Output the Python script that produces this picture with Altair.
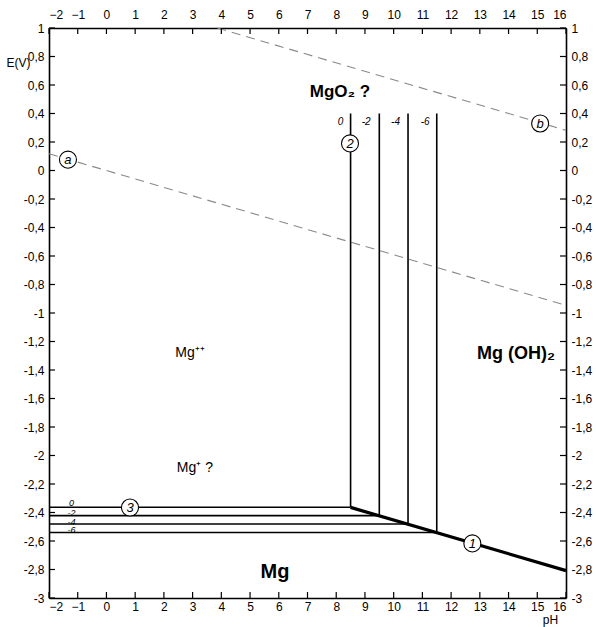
import altair as alt
import pandas as pd

# ---------------- data ----------------
x_ticks = [-2, -1, 0, 1, 2, 3, 4, 5, 6, 7, 8, 9, 10, 11, 12, 13, 14, 15, 16]
y_ticks = [1, 0.8, 0.6, 0.4, 0.2, 0, -0.2, -0.4, -0.6, -0.8, -1, -1.2, -1.4,
           -1.6, -1.8, -2, -2.2, -2.4, -2.6, -2.8, -3]

# line 2 (vertical Mg++ / Mg(OH)2) for log[Mg++] = 0, -2, -4, -6
log_conc_labels = ["0", "-2", "-4", "-6"]
ph_vertical = [8.5, 9.5, 10.5, 11.5]
e_vertical_top = [0.40, 0.40, 0.40, 0.40]
# line 3 (horizontal Mg++ / Mg)
e_horizontal = [-2.363, -2.422, -2.481, -2.540]
ph_horizontal_start = [-2, -2, -2, -2]

# line 1 (Mg(OH)2 / Mg)
line1_ph = [8.5, 16]
line1_e = [-2.364, -2.808]

# water lines a and b (dashed)
line_a_ph = [-2, 16]
line_a_e = [0.118, -0.946]
line_b_ph = [3.86, 16]
line_b_e = [1.0, 0.282]

# region labels
region_text = ["MgO\u2082 ?", "Mg\u207a\u207a", "Mg (OH)\u2082", "Mg\u207a ?", "Mg"]
region_ph = [8.13, 2.91, 14.26, 3.08, 5.87]
region_e = [0.55, -1.28, -1.29, -2.09, -2.82]
region_bold = ["bold", "normal", "bold", "normal", "bold"]
region_size = [17, 14, 18, 14, 20]

# circled line identifiers
circle_text = ["a", "b", "2", "3", "1"]
circle_ph = [-1.34, 15.1, 8.48, 0.82, 12.74]
circle_e = [0.076, 0.33, 0.19, -2.365, -2.617]

# small concentration labels
top_lab_ph = [8.25, 9.2, 10.22, 11.25]
top_lab_e = [0.34, 0.34, 0.34, 0.34]
left_lab_ph = [-1.22, -1.22, -1.22, -1.22]
left_lab_e = [-2.33, -2.40, -2.465, -2.525]

# ---------------- chart ----------------
W, H = 517, 570
FONT = "Liberation Sans"
xs = alt.Scale(domain=[-2, 16], nice=False, zero=False)
ys = alt.Scale(domain=[-3, 1], nice=False, zero=False)

label_expr = "replace(replace(format(datum.value, '.1~f'), '.', ','), '\u2212', '-')"

thin_df = pd.DataFrame({
    "x": ph_horizontal_start + ph_vertical,
    "y": e_horizontal + e_horizontal,
    "x2": ph_vertical + ph_vertical,
    "y2": e_horizontal + e_vertical_top,
})
thin = alt.Chart(thin_df).mark_rule(color="black", strokeWidth=1.6).encode(
    x=alt.X("x:Q", scale=xs, axis=alt.Axis(
        orient="bottom", values=x_ticks, ticks=False, grid=False,
        labelPadding=3, labelFontSize=12, labelFont=FONT, labelColor="black",
        domainColor="black", domainWidth=1.6,
        title="pH", titleFont=FONT, titleFontSize=12, titleFontWeight="normal",
        titleAngle=0, titleX=501, titleY=16, titleAlign="center",
        titleBaseline="top")),
    y=alt.Y("y:Q", scale=ys, axis=alt.Axis(
        orient="left", values=y_ticks, ticks=False, grid=False,
        labelExpr=label_expr, labelPadding=5, labelFontSize=12, labelFont=FONT,
        labelColor="black", domainColor="black", domainWidth=1.6,
        title="E(V)", titleFont=FONT, titleFontSize=12, titleFontWeight="normal",
        titleAngle=0, titleX=-31, titleY=34, titleAlign="center",
        titleBaseline="middle")),
    x2="x2:Q", y2="y2:Q",
)

thick_df = pd.DataFrame({"x": [line1_ph[0]], "y": [line1_e[0]],
                         "x2": [line1_ph[1]], "y2": [line1_e[1]]})
thick = alt.Chart(thick_df).mark_rule(color="black", strokeWidth=3.2).encode(
    x=alt.X("x:Q", scale=xs, axis=None), y=alt.Y("y:Q", scale=ys, axis=None),
    x2="x2:Q", y2="y2:Q")

dash_df = pd.DataFrame({"x": [line_a_ph[0], line_b_ph[0]],
                        "y": [line_a_e[0], line_b_e[0]],
                        "x2": [line_a_ph[1], line_b_ph[1]],
                        "y2": [line_a_e[1], line_b_e[1]]})
dashed = alt.Chart(dash_df).mark_rule(color="#8a8a8a", strokeWidth=1.1,
                                      strokeDash=[9, 6]).encode(
    x=alt.X("x:Q", scale=xs, axis=None), y=alt.Y("y:Q", scale=ys, axis=None),
    x2="x2:Q", y2="y2:Q")

xt_df = pd.DataFrame({"t": x_ticks})
yt_df = pd.DataFrame({"t": y_ticks})

bottom_ticks = alt.Chart(xt_df).mark_rule(color="black", strokeWidth=1.2).encode(
    x=alt.X("t:Q", scale=xs, axis=None), y=alt.value(H), y2=alt.value(H - 6))
top_ticks = alt.Chart(xt_df).mark_rule(color="black", strokeWidth=1.2).encode(
    x=alt.X("t:Q", scale=xs, axis=alt.Axis(
        orient="top", values=x_ticks, ticks=False, grid=False,
        labelPadding=7, labelFontSize=12, labelFont=FONT, labelColor="black",
        domainColor="black", domainWidth=1.6, title=None)),
    y=alt.value(0), y2=alt.value(6))
left_ticks = alt.Chart(yt_df).mark_rule(color="black", strokeWidth=1.2).encode(
    y=alt.Y("t:Q", scale=ys, axis=None), x=alt.value(0), x2=alt.value(6))
right_ticks = alt.Chart(yt_df).mark_rule(color="black", strokeWidth=1.2).encode(
    y=alt.Y("t:Q", scale=ys, axis=alt.Axis(
        orient="right", values=y_ticks, ticks=False, grid=False,
        labelExpr=label_expr, labelPadding=5, labelFontSize=12, labelFont=FONT,
        labelColor="black", domainColor="black", domainWidth=1.6, title=None)),
    x=alt.value(W), x2=alt.value(W - 6))

reg_df = pd.DataFrame({"t": region_text, "x": region_ph, "y": region_e,
                       "w": region_bold, "s": region_size})
regions = []
for i in range(len(region_text)):
    regions.append(
        alt.Chart(reg_df.iloc[[i]]).mark_text(
            font=FONT, fontSize=region_size[i], fontWeight=region_bold[i],
            color="black").encode(
            x=alt.X("x:Q", scale=xs, axis=None),
            y=alt.Y("y:Q", scale=ys, axis=None), text="t:N"))

circ_df = pd.DataFrame({"t": circle_text, "x": circle_ph, "y": circle_e})
circles = alt.Chart(circ_df).mark_point(
    shape="circle", size=290, filled=False, fill="white", fillOpacity=1,
    stroke="black", strokeWidth=1.1, opacity=1).encode(
    x=alt.X("x:Q", scale=xs, axis=None), y=alt.Y("y:Q", scale=ys, axis=None))
circle_txt = alt.Chart(circ_df).mark_text(
    font=FONT, fontSize=13, fontStyle="italic", color="black", dy=0.5).encode(
    x=alt.X("x:Q", scale=xs, axis=None), y=alt.Y("y:Q", scale=ys, axis=None),
    text="t:N")

top_lab_df = pd.DataFrame({"t": log_conc_labels, "x": top_lab_ph, "y": top_lab_e})
top_labels = alt.Chart(top_lab_df).mark_text(
    font=FONT, fontSize=10, fontStyle="italic", color="black", align="right").encode(
    x=alt.X("x:Q", scale=xs, axis=None), y=alt.Y("y:Q", scale=ys, axis=None),
    text="t:N")
left_lab_df = pd.DataFrame({"t": log_conc_labels, "x": left_lab_ph, "y": left_lab_e})
left_labels = alt.Chart(left_lab_df).mark_text(
    font=FONT, fontSize=9, fontStyle="italic", color="black").encode(
    x=alt.X("x:Q", scale=xs, axis=None), y=alt.Y("y:Q", scale=ys, axis=None),
    text="t:N")

chart = alt.layer(
    dashed, thin, thick, bottom_ticks, top_ticks, left_ticks, right_ticks,
    *regions, circles, circle_txt, top_labels, left_labels,
).resolve_axis(x="independent", y="independent").properties(
    width=W, height=H,
    autosize=alt.AutoSizeParams(type="none"),
    padding={"left": 49, "top": 28, "right": 30, "bottom": 29},
    background="white",
).configure_view(stroke=None)

chart.save("out.html", embed_options={"renderer": "svg", "actions": False})
